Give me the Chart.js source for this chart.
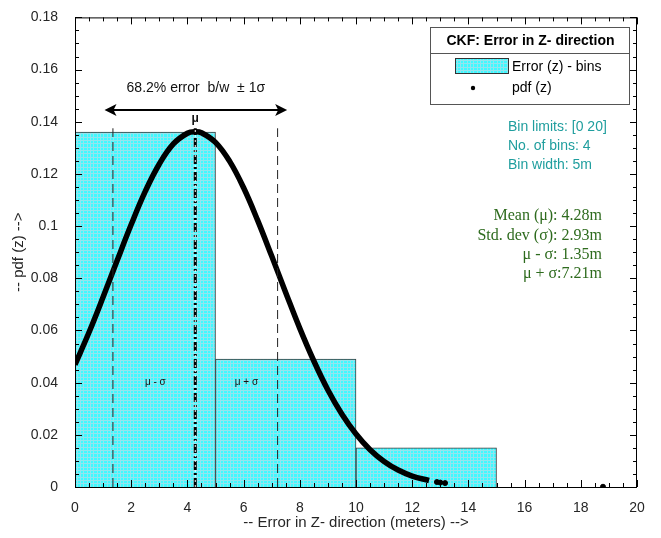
<!DOCTYPE html>
<html>
<head>
<meta charset="utf-8">
<script src="https://cdn.jsdelivr.net/npm/chart.js@4"></script>
<style>
  body { margin: 0; background: #fff; }
  #wrap { width: 661px; height: 538px; }
</style>
</head>
<body>
<div id="wrap"><canvas id="chartPdf" width="661" height="538"></canvas></div>
<script>
// histogram bins
const binLabels = ["0-5", "5-10", "10-15", "15-20"];
const binHeights = [0.136, 0.049, 0.015, 0];

// pdf samples
const pdfX = [0, 0.5, 1, 1.5, 2, 2.5, 3, 3.5, 4, 4.28, 4.5, 5, 5.5, 6, 6.5, 7, 7.5, 8, 8.5, 9, 9.5, 10, 10.5, 11, 11.5, 12, 12.6];
const pdfY = [0.0469, 0.0593, 0.0728, 0.0868, 0.1006, 0.1133, 0.1238, 0.1315, 0.1356, 0.1362, 0.1358, 0.1321, 0.1249, 0.1147, 0.1022, 0.0885, 0.0745, 0.0608, 0.0483, 0.0372, 0.0279, 0.0203, 0.0143, 0.0098, 0.0065, 0.0042, 0.0025];
const tailX = [12.88, 13.0, 13.17, 18.79];
const tailY = [0.0019, 0.0017, 0.0015, 0.0001];

// statistics
const meanVal = 4.28;
const lowVal = 1.35;
const highVal = 7.21;
const markerTop = 0.1375;
const arrowSpan = [1.05, 7.55];
const arrowLevel = 0.1445;

const binText = ["Bin limits: [0 20]", "No. of bins: 4", "Bin width: 5m"];
const statText = ["Mean (\u03bc): 4.28m", "Std. dev (\u03c3): 2.93m", "\u03bc - \u03c3: 1.35m", "\u03bc + \u03c3:7.21m"];

const SANS = "'Liberation Sans', Arial, sans-serif";
const SERIF = "'Liberation Serif', 'Times New Roman', serif";

function makeHatch() {
    var c = document.createElement("canvas");
    c.width = 10; c.height = 10;
    var g = c.getContext("2d");
    g.fillStyle = "#3ff9ff";
    g.fillRect(0, 0, 10, 10);
    g.fillStyle = "#93e4ee";
    [0, 3, 7].forEach(function (p) {
        g.fillRect(p, 0, 1, 10);
        g.fillRect(0, p, 10, 1);
    });
    return g.createPattern(c, "repeat");
}
const hatch = makeHatch();

function pts(xs, ys) {
    return xs.map(function (x, i) { return { x: x, y: ys[i] }; });
}

const framePlugin = {
    id: "frame",
    afterDatasetsDraw(chart) {
        const ctx = chart.ctx;
        const a = chart.chartArea;
        const xs = chart.scales.x, ys = chart.scales.y;
        ctx.save();

        // axis box
        ctx.strokeStyle = "#000";
        ctx.lineWidth = 1;
        ctx.strokeRect(a.left + 0.5, a.top + 0.5, a.right - a.left - 1, a.bottom - a.top);

        // inward ticks
        ctx.beginPath();
        for (let i = 0; i <= 40; i++) {
            const px = Math.round(xs.getPixelForValue(i * 0.5)) + 0.5;
            const len = (i % 4 === 0) ? 7 : 4;
            ctx.moveTo(px, a.bottom); ctx.lineTo(px, a.bottom - len);
            ctx.moveTo(px, a.top); ctx.lineTo(px, a.top + len);
        }
        for (let i = 0; i <= 36; i++) {
            const py = Math.round(ys.getPixelForValue(i * 0.005)) + 0.5;
            const len = (i % 4 === 0) ? 7 : 4;
            ctx.moveTo(a.left, py); ctx.lineTo(a.left + len, py);
            ctx.moveTo(a.right, py); ctx.lineTo(a.right - len, py);
        }
        ctx.stroke();

        // double arrow for +/- 1 sigma
        const ax1 = xs.getPixelForValue(arrowSpan[0]);
        const ax2 = xs.getPixelForValue(arrowSpan[1]);
        const ay = ys.getPixelForValue(arrowLevel);
        ctx.lineWidth = 2;
        ctx.beginPath();
        ctx.moveTo(ax1 + 6, ay); ctx.lineTo(ax2 - 6, ay);
        ctx.stroke();
        ctx.fillStyle = "#000";
        ctx.beginPath();
        ctx.moveTo(ax1, ay); ctx.lineTo(ax1 + 12, ay - 6); ctx.lineTo(ax1 + 9, ay); ctx.lineTo(ax1 + 12, ay + 6); ctx.closePath();
        ctx.moveTo(ax2, ay); ctx.lineTo(ax2 - 12, ay - 6); ctx.lineTo(ax2 - 9, ay); ctx.lineTo(ax2 - 12, ay + 6); ctx.closePath();
        ctx.fill();

        ctx.textAlign = "center";
        ctx.textBaseline = "middle";
        ctx.fillStyle = "#111";
        ctx.font = "14px " + SANS;
        ctx.fillText("68.2% error  b/w  \u00b1 1\u03c3", (ax1 + ax2) / 2, ay - 22);
        ctx.font = "bold 12px " + SANS;
        ctx.fillText("\u03bc", xs.getPixelForValue(meanVal), ys.getPixelForValue(markerTop) - 10);
        ctx.font = "10px " + SANS;
        const lblY = ys.getPixelForValue(0.04);
        ctx.fillText("\u03bc - \u03c3", xs.getPixelForValue(2.86), lblY);
        ctx.fillText("\u03bc + \u03c3", xs.getPixelForValue(6.1), lblY);

        // info text
        ctx.textAlign = "left";
        ctx.fillStyle = "#1f9e9e";
        ctx.font = "14px " + SANS;
        binText.forEach(function (t, i) { ctx.fillText(t, 508, 127 + i * 19); });
        ctx.textAlign = "right";
        ctx.fillStyle = "#2e6b1e";
        ctx.font = "16px " + SERIF;
        statText.forEach(function (t, i) { ctx.fillText(t, 602, 216 + i * 19.3); });

        // legend box
        const lx = 430, ly = 27, lw = 199, lh = 77;
        ctx.fillStyle = "#fff";
        ctx.fillRect(lx, ly, lw, lh);
        ctx.strokeStyle = "#555";
        ctx.lineWidth = 1;
        ctx.strokeRect(lx + 0.5, ly + 0.5, lw, lh);
        ctx.beginPath();
        ctx.moveTo(lx, 53.5); ctx.lineTo(lx + lw, 53.5);
        ctx.stroke();
        ctx.textAlign = "center";
        ctx.fillStyle = "#000";
        ctx.font = "bold 14px " + SANS;
        ctx.fillText("CKF: Error in Z- direction", lx + lw / 2 + 1, 41);
        ctx.fillStyle = hatch;
        ctx.fillRect(455, 58, 53, 15);
        ctx.strokeStyle = "#333";
        ctx.strokeRect(455.5, 58.5, 53, 15);
        ctx.fillStyle = "#000";
        ctx.beginPath();
        ctx.arc(473, 88, 2.2, 0, Math.PI * 2);
        ctx.fill();
        ctx.textAlign = "left";
        ctx.font = "14px " + SANS;
        ctx.fillText("Error (z) - bins", 512, 67);
        ctx.fillText("pdf (z)", 512, 88);
        ctx.restore();
    }
};

const configPdf = {
    type: "bar",
    data: {
        labels: binLabels,
        datasets: [
            {
                type: "line",
                xAxisID: "x",
                data: [{ x: meanVal, y: 0 }, { x: meanVal, y: markerTop }],
                borderColor: "#fff",
                borderWidth: 1,
                borderDash: [2, 3],
                pointRadius: 0,
                order: 0,
            },
            {
                type: "line",
                xAxisID: "x",
                data: [{ x: meanVal, y: 0 }, { x: meanVal, y: markerTop }],
                borderColor: "#000",
                borderWidth: 3,
                borderDash: [9, 3, 2, 3],
                pointRadius: 0,
                order: 1,
            },
            {
                type: "line",
                xAxisID: "x",
                data: [{ x: lowVal, y: 0 }, { x: lowVal, y: markerTop }],
                borderColor: "#222",
                borderWidth: 1,
                borderDash: [9, 5],
                pointRadius: 0,
                order: 2,
            },
            {
                type: "line",
                xAxisID: "x",
                data: [{ x: highVal, y: 0 }, { x: highVal, y: markerTop }],
                borderColor: "#222",
                borderWidth: 1,
                borderDash: [9, 5],
                pointRadius: 0,
                order: 2,
            },
            {
                type: "line",
                xAxisID: "x",
                label: "pdf (z)",
                data: pts(pdfX, pdfY),
                borderColor: "#000",
                borderWidth: 5.5,
                tension: 0.4,
                pointRadius: 0,
                order: 3,
            },
            {
                type: "scatter",
                xAxisID: "x",
                data: pts(tailX, tailY),
                backgroundColor: "#000",
                borderColor: "#000",
                pointRadius: 2.5,
                order: 3,
            },
            {
                type: "bar",
                label: "Error (z) - bins",
                xAxisID: "xb",
                data: binHeights,
                backgroundColor: hatch,
                borderColor: "#3a3a3a",
                borderWidth: 1,
                grouped: false,
                categoryPercentage: 1,
                barPercentage: 1,
                order: 10,
            },
        ],
    },
    options: {
        responsive: false,
        animation: false,
        layout: { padding: { top: 16, right: 24, left: 0, bottom: 0 } },
        plugins: {
            legend: false,
            tooltip: false,
        },
        scales: {
            x: {
                type: "linear",
                offset: false,
                min: 0,
                max: 20,
                grid: { display: false },
                border: { display: false },
                ticks: {
                    stepSize: 2,
                    padding: 5,
                    color: "#262626",
                    font: { size: 14, family: SANS },
                    maxRotation: 0,
                },
                title: {
                    display: true,
                    text: "-- Error in Z- direction (meters) -->",
                    color: "#262626",
                    font: { size: 15, family: SANS },
                    padding: { top: 0, bottom: 6 },
                },
                afterFit: function (s) { s.height = 51; },
            },
            xb: {
                type: "category",
                offset: true,
                display: false,
                grid: { display: false },
            },
            y: {
                min: 0,
                max: 0.18,
                grid: { display: false },
                border: { display: false },
                ticks: {
                    stepSize: 0.02,
                    padding: 9,
                    color: "#262626",
                    font: { size: 14, family: SANS },
                    callback: function (v) { return String(+v.toFixed(2)); },
                },
                title: {
                    display: true,
                    text: "-- pdf (z) -->",
                    color: "#262626",
                    font: { size: 15, family: SANS },
                    padding: { top: 10, bottom: 0 },
                },
                afterFit: function (s) { s.width = 75; },
            },
        },
    },
    plugins: [framePlugin],
};

var chartPdf = new Chart(document.getElementById("chartPdf"), configPdf);
</script>
</body>
</html>
